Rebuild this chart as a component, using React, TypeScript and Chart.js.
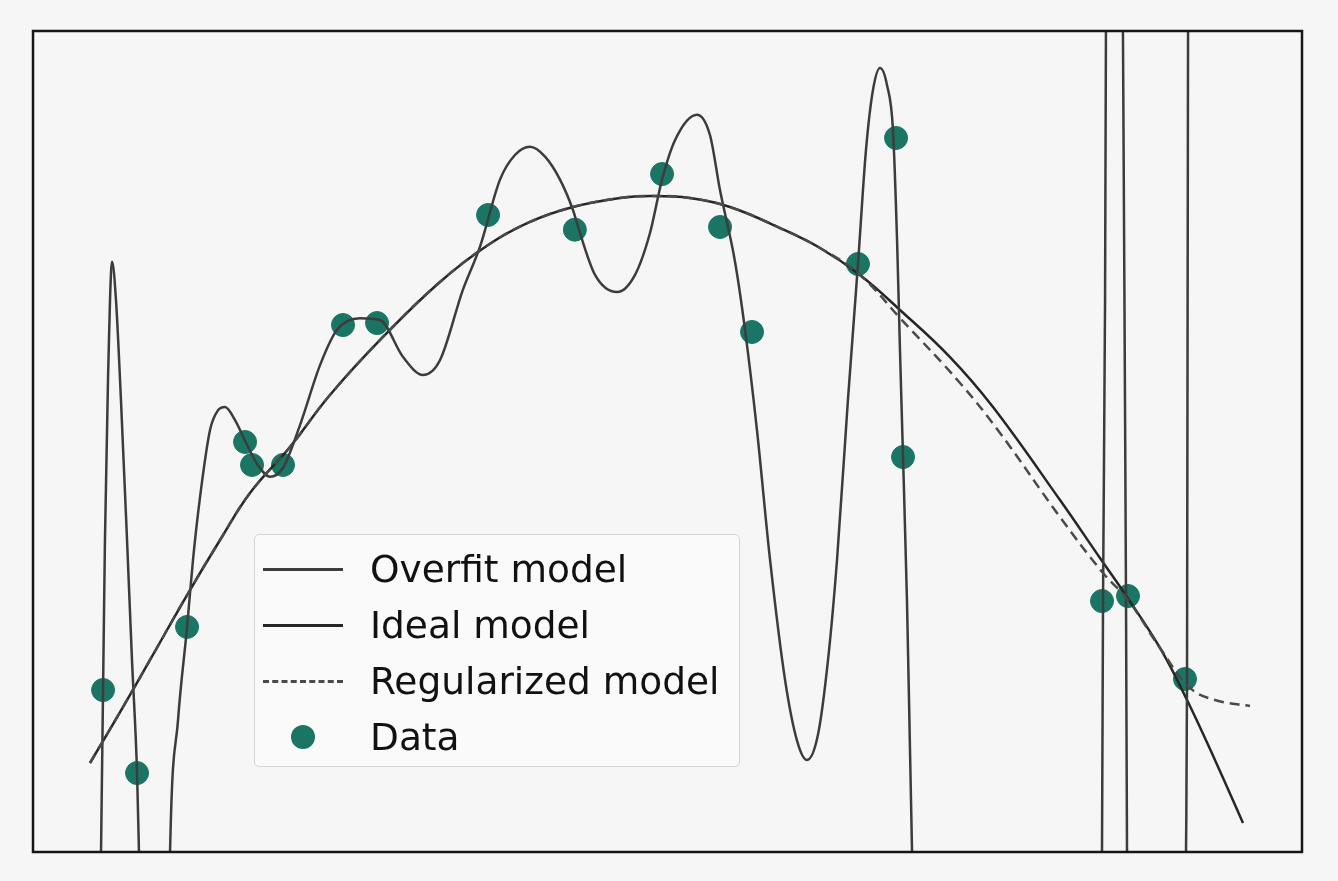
import React, { useEffect, useRef } from "react";
import { Chart, registerables } from "chart.js";

Chart.register(...registerables);

// Data (x, y) in arbitrary model units, x: 0..10, y: 0..10
const dataX = [0.552, 0.82, 1.214, 1.671, 1.726, 1.97, 2.443, 2.711, 3.586, 4.27, 4.957, 5.414, 5.666, 6.501, 6.801, 6.856, 8.424, 8.629, 9.078];
const dataY = [1.973, 0.962, 2.741, 4.994, 4.714, 4.714, 6.419, 6.443, 7.759, 7.58, 8.258, 7.613, 6.334, 7.162, 8.697, 4.811, 3.057, 3.118, 2.107];

const overfitX = [0.52, 0.536, 0.552, 0.567, 0.591, 0.623, 0.654, 0.693, 0.741, 0.78, 0.82, 0.835, 0.859, 0.961, 1.064, 1.08, 1.143, 1.214, 1.261, 1.316, 1.395, 1.458, 1.513, 1.592, 1.686, 1.773, 1.868, 1.97, 2.104, 2.262, 2.396, 2.577, 2.734, 2.916, 3.073, 3.207, 3.388, 3.522, 3.68, 3.798, 3.916, 4.035, 4.153, 4.255, 4.31, 4.429, 4.602, 4.744, 4.862, 4.957, 5.059, 5.232, 5.335, 5.414, 5.532, 5.611, 5.705, 5.808, 5.926, 6.02, 6.099, 6.186, 6.265, 6.336, 6.422, 6.501, 6.564, 6.619, 6.675, 6.73, 6.777, 6.809, 6.832, 6.856, 6.887, 6.911, 6.927, 6.95, 7.62, 8.4, 8.424, 8.432, 8.448, 8.455, 8.471, 8.574, 8.589, 8.605, 8.613, 8.621, 8.637, 8.802, 9.078, 9.086, 9.094, 9.102, 9.11];
const overfitY = [-1.8, 0, 1.97, 3.8, 5.75, 7.19, 6.72, 5.51, 3.8, 2.34, 0.96, 0, -1.8, -2.41, -1.8, 0, 1.61, 2.74, 3.56, 4.32, 5.14, 5.38, 5.42, 5.26, 4.96, 4.71, 4.57, 4.68, 5.2, 5.93, 6.36, 6.5, 6.48, 6.03, 5.81, 5.99, 6.85, 7.37, 8.19, 8.49, 8.59, 8.47, 8.19, 7.82, 7.54, 7.03, 6.82, 7.03, 7.54, 8.19, 8.67, 8.98, 8.73, 8.06, 7.19, 6.36, 5.14, 3.56, 2.1, 1.36, 1.12, 1.43, 2.34, 3.56, 5.51, 7.16, 8.55, 9.28, 9.55, 9.34, 8.79, 7.45, 6.11, 4.81, 3.07, 1.24, 0, -1.8, -3.02, -1.8, 0, 3.06, 6.72, 10.0, 12.2, 12.2, 10.0, 5.51, 3.12, 0, -1.8, -3.0, -1.8, 0, 2.11, 10.0, 12.2];

const idealX = [0.449, 0.686, 0.922, 1.214, 1.474, 1.71, 2.025, 2.34, 2.758, 3.207, 3.586, 3.916, 4.255, 4.626, 4.862, 5.177, 5.493, 5.887, 6.202, 6.517, 6.832, 7.226, 7.565, 8.093, 8.408, 8.621, 8.881, 9.094, 9.314, 9.535];
const idealY = [1.084, 1.705, 2.339, 3.13, 3.8, 4.373, 4.933, 5.566, 6.273, 6.943, 7.393, 7.674, 7.856, 7.966, 7.99, 7.966, 7.856, 7.6, 7.357, 7.028, 6.602, 6.029, 5.42, 4.287, 3.581, 3.106, 2.485, 1.851, 1.121, 0.353];

const regX = [0.449, 0.686, 0.922, 1.214, 1.474, 1.71, 2.025, 2.34, 2.758, 3.207, 3.586, 3.916, 4.255, 4.626, 4.862, 5.177, 5.493, 5.887, 6.202, 6.517, 6.832, 7.305, 7.62, 8.093, 8.432, 8.629, 8.881, 9.118, 9.314, 9.59];
const regY = [1.084, 1.705, 2.339, 3.13, 3.8, 4.373, 4.933, 5.566, 6.273, 6.943, 7.393, 7.674, 7.856, 7.966, 7.99, 7.966, 7.856, 7.6, 7.357, 7.028, 6.504, 5.713, 5.104, 4.08, 3.398, 3.069, 2.485, 1.998, 1.851, 1.778];

const legendLabels = ["Overfit model", "Ideal model", "Regularized model", "Data"];

const POINT_COLOR = "#1a7564";
const OVERFIT_COLOR = "#3c3c3c";
const IDEAL_COLOR = "#262626";
const REG_COLOR = "#4a4a4a";

const zip = (xs: number[], ys: number[]) => xs.map((x, i) => ({ x, y: ys[i] }));

const framePlugin = {
  id: "frame",
  afterDraw(chart: any) {
    const { ctx, chartArea } = chart;
    ctx.save();
    ctx.strokeStyle = "#151515";
    ctx.lineWidth = 2.5;
    ctx.strokeRect(chartArea.left, chartArea.top, chartArea.right - chartArea.left, chartArea.bottom - chartArea.top);
    ctx.restore();
  },
};

export default function App() {
  const ref = useRef<HTMLCanvasElement | null>(null);

  useEffect(() => {
    if (!ref.current) return;
    const chart = new Chart(ref.current, {
      type: "scatter",
      data: {
        datasets: [
          {
            label: legendLabels[0],
            data: zip(overfitX, overfitY),
            showLine: true,
            borderColor: OVERFIT_COLOR,
            borderWidth: 2.5,
            pointRadius: 0,
            cubicInterpolationMode: "monotone",
            order: 1,
          } as any,
          {
            label: legendLabels[1],
            data: zip(idealX, idealY),
            showLine: true,
            borderColor: IDEAL_COLOR,
            borderWidth: 2.5,
            pointRadius: 0,
            tension: 0.4,
            order: 2,
          } as any,
          {
            label: legendLabels[2],
            data: zip(regX, regY),
            showLine: true,
            borderColor: REG_COLOR,
            borderWidth: 2.5,
            borderDash: [10, 6],
            pointRadius: 0,
            tension: 0.4,
            order: 0,
          } as any,
          {
            label: legendLabels[3],
            data: zip(dataX, dataY),
            showLine: false,
            backgroundColor: POINT_COLOR,
            borderColor: POINT_COLOR,
            pointRadius: 11.5,
            order: 10,
          } as any,
        ],
      },
      options: {
        animation: false,
        responsive: false,
        layout: { padding: { left: 33, top: 31, right: 36, bottom: 29 } },
        plugins: { legend: { display: false }, tooltip: { enabled: false } },
        scales: {
          x: { type: "linear", min: 0, max: 10, display: false },
          y: { type: "linear", min: 0, max: 10, display: false },
        },
      },
      plugins: [framePlugin],
    });
    return () => chart.destroy();
  }, []);

  const rowStyle: React.CSSProperties = {
    display: "flex",
    alignItems: "center",
    height: 56,
  };
  const labelStyle: React.CSSProperties = {
    fontFamily: "'DejaVu Sans', sans-serif",
    fontSize: 37.5,
    color: "#111",
    marginLeft: 27,
    lineHeight: "56px",
    whiteSpace: "nowrap",
  };
  const sample = (kind: number) => {
    if (kind === 3) {
      return (
        <div style={{ width: 80, height: 56, position: "relative" }}>
          <div style={{ position: "absolute", left: 28, top: 16, width: 24, height: 24, borderRadius: 12, background: POINT_COLOR }} />
        </div>
      );
    }
    const color = kind === 0 ? OVERFIT_COLOR : kind === 1 ? IDEAL_COLOR : REG_COLOR;
    return (
      <div style={{ width: 80, height: 56, position: "relative" }}>
        <div
          style={{
            position: "absolute",
            left: 0,
            top: 27,
            width: 80,
            height: 0,
            borderTop: kind === 2 ? `3px dashed ${color}` : `3px solid ${color}`,
          }}
        />
      </div>
    );
  };

  return (
    <div style={{ position: "fixed", left: 0, top: 0, width: 1338, height: 881, background: "#f6f6f6" }}>
      <canvas ref={ref} width={1338} height={881} style={{ width: 1338, height: 881, display: "block" }} />
      <div
        style={{
          position: "absolute",
          left: 254,
          top: 534,
          width: 486,
          height: 233,
          boxSizing: "border-box",
          border: "1.5px solid #d4d4d4",
          borderRadius: 5,
          background: "rgba(250,250,250,0.85)",
          padding: "6px 0 0 8px",
        }}
      >
        {legendLabels.map((lab, i) => (
          <div key={lab} style={rowStyle}>
            {sample(i)}
            <span style={labelStyle}>{lab}</span>
          </div>
        ))}
      </div>
    </div>
  );
}
